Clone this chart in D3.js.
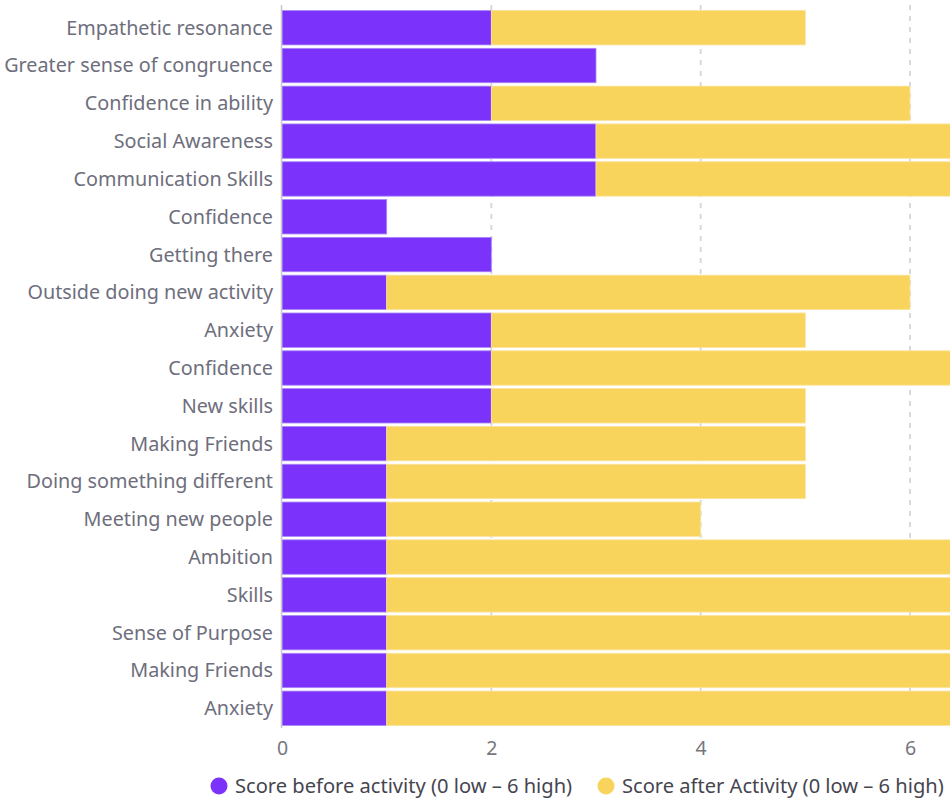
<!DOCTYPE html>
<html>
<head>
<meta charset="utf-8">
<script src="https://cdn.jsdelivr.net/npm/d3@7"></script>
<style>
  html, body { margin: 0; padding: 0; background: #fff; }
  svg { display: block; }
  text { font-family: "Source Sans Pro", "Noto Sans", "Open Sans", sans-serif; }
</style>
</head>
<body>
<svg id="chart" width="950" height="801"></svg>
<script>
// Activity self-ratings, before and after
const categories = [
  "Empathetic resonance", "Greater sense of congruence", "Confidence in ability",
  "Social Awareness", "Communication Skills", "Confidence", "Getting there",
  "Outside doing new activity", "Anxiety", "Confidence", "New skills",
  "Making Friends", "Doing something different", "Meeting new people",
  "Ambition", "Skills", "Sense of Purpose", "Making Friends", "Anxiety"
];
const scoreBefore = [2, 3, 2, 3, 3, 1, 2, 1, 2, 2, 2, 1, 1, 1, 1, 1, 1, 1, 1];
const scoreAfter  = [3, 0, 4, 4, 4, 0, 0, 5, 3, 5, 3, 4, 4, 3, 6, 6, 6, 6, 6];
const seriesNames = ["Score before activity (0 low \u2013 6 high)", "Score after Activity (0 low \u2013 6 high)"];
const xTicks = [0, 2, 4, 6];

const colors = ["#7b33fb", "#f9d45d"];

const svg = d3.select("#chart");
const margin = { left: 282, top: 9, bottom: 75 };
const height = 801;

const rows = categories.map((c, i) => ({ i, name: c, before: scoreBefore[i], after: scoreAfter[i] }));

const x = d3.scaleLinear().domain([0, 6]).range([margin.left, 910]);
const y = d3.scaleBand()
  .domain(rows.map(d => d.i))
  .range([margin.top, height - margin.bottom + 1])
  .paddingInner(0.09)
  .paddingOuter(0.04);

// dashed grid lines
svg.append("g")
  .selectAll("line")
  .data(xTicks.filter(t => t > 0))
  .join("line")
  .attr("x1", d => x(d)).attr("x2", d => x(d))
  .attr("y1", 5).attr("y2", 727)
  .attr("stroke", "#d9d9dc")
  .attr("stroke-width", 2)
  .attr("stroke-dasharray", "5,6");

// stacked bars: before, then after
const stack = d3.stack().keys(["before", "after"])(rows);
svg.append("g")
  .selectAll("g")
  .data(stack)
  .join("g")
  .attr("fill", (d, k) => colors[k])
  .attr("stroke", (d, k) => k === 0 ? "#a888fb" : "#fbe39a")
  .attr("stroke-width", 0.8)
  .selectAll("rect")
  .data(d => d.filter(s => s[1] > s[0]))
  .join("rect")
  .attr("x", d => x(d[0]))
  .attr("width", d => x(d[1]) - x(d[0]))
  .attr("y", d => y(d.data.i))
  .attr("height", y.bandwidth());

// baseline
svg.append("line")
  .attr("x1", x(0) - 0.5).attr("x2", x(0) - 0.5)
  .attr("y1", 5).attr("y2", 728)
  .attr("stroke", "#c8c8cc").attr("stroke-width", 1.5);

// category labels
svg.append("g")
  .selectAll("text")
  .data(rows)
  .join("text")
  .attr("x", 273)
  .attr("y", d => y(d.i) + y.bandwidth() / 2)
  .attr("dy", "0.35em")
  .attr("text-anchor", "end")
  .attr("fill", "#6e6e7c")
  .attr("font-size", 19.8)
  .text(d => d.name);

// x axis
const xAxis = d3.axisBottom(x).tickValues(xTicks).tickSize(0).tickPadding(0).tickFormat(d3.format("d"));
const gx = svg.append("g").attr("transform", "translate(0,740)").call(xAxis);
gx.select(".domain").remove();
gx.selectAll("text")
  .attr("font-size", 19.5)
  .attr("fill", "#76767e")
  .attr("dy", "0.75em")
  .style("font-family", "'Source Sans Pro', 'Noto Sans', sans-serif");

// legend
const legendItems = [
  { label: seriesNames[0], color: colors[0], cx: 219 },
  { label: seriesNames[1], color: colors[1], cx: 606 }
];
const lg = svg.append("g").selectAll("g").data(legendItems).join("g");
lg.append("circle")
  .attr("cx", d => d.cx).attr("cy", 786).attr("r", 8.5)
  .attr("fill", d => d.color);
lg.append("text")
  .attr("x", d => d.cx + 16).attr("y", 786).attr("dy", "0.35em")
  .attr("fill", "#45454f")
  .attr("font-size", 20.1)
  .text(d => d.label);
</script>
</body>
</html>
